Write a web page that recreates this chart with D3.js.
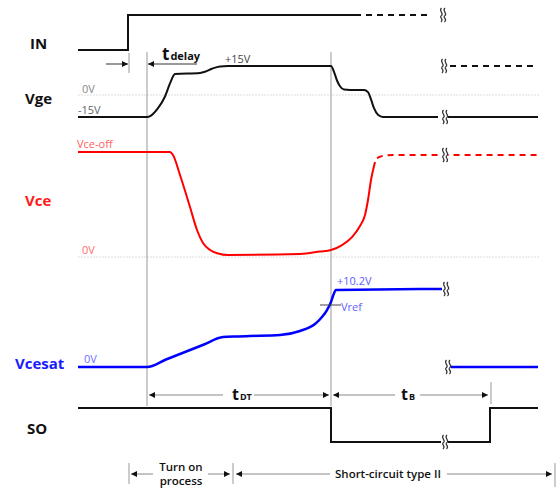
<!DOCTYPE html>
<html><head><meta charset="utf-8">
<script src="https://cdn.jsdelivr.net/npm/d3@7"></script>
<style>body{margin:0;background:#fff}svg{display:block;font-family:"Open Sans","Noto Sans",sans-serif}</style>
</head><body>
<script>
// time axis in arbitrary units
const signalNames = ["IN","Vge","Vce","Vcesat","SO"];
const signalColors = ["#111","#111","#ff0000","#0000ff","#111"];

const inT = [0,50,277];            const inV = [0,1,1];
const inDashT = [277,354];         const inDashV = [1,1];

const vgeT = [0,69,73,80,87,92,97,122,127,134,142,150,253,256,259,262,266,272,286,290,293,296,300,305,360];
const vgeV = [-15,-15,-14,-9,-1,6,10.9,11.4,12,13.6,14.8,15,15,12,7.5,4.5,2.8,2.6,2.6,1.5,-3,-9,-13.5,-15,-15];
const vgeT2 = [368,460];           const vgeV2 = [-15,-15];
const vgeDashT = [372,455];        const vgeDashV = [15,15];

const vceT = [0,92,95,102,112,119,125,132,140,150,222,242,253,264,274,282,287,290,293,297];
const vceV = [1,1,0.971,0.781,0.476,0.257,0.133,0.067,0.033,0.019,0.029,0.052,0.067,0.114,0.19,0.295,0.4,0.543,0.733,0.905];
const vceDashT = [299,307,317,460]; const vceDashV = [0.943,0.967,0.971,0.971];

const satT = [0,69,88,107,126,145,160,172,202,222,237,244,249,253,255,258,365];
const satV = [0,0,0.98,1.96,2.94,3.92,4.0,4.05,4.18,4.71,5.62,6.54,7.45,8.5,9.28,10.07,10.2];
const satT2 = [369,460];           const satV2 = [0,0];

const soT = [0,253,412,460];       const soV = [1,0,1,1];

const breakT = 362;
const markers = {tIn:50, tOn:69, tOff:253, tEnd:412, tProc:154};

const W=558,H=489;
const svg=d3.select("body").append("svg").attr("width",W).attr("height",H);
const x=d3.scaleLinear().domain([0,460]).range([78,538]);
const yIn=d3.scaleLinear().domain([0,1]).range([50,15]);
const yVge=d3.scaleLinear().domain([-15,0,15]).range([117,95,66]);
const yVce=d3.scaleLinear().domain([0,1]).range([257,152]);
const ySat=d3.scaleLinear().domain([0,10.2]).range([367,289]);
const ySo=d3.scaleLinear().domain([0,1]).range([442,408]);

const defs=svg.append("defs");
["s","e"].forEach(k=>{
  defs.append("marker").attr("id","ar"+k).attr("viewBox","0 0 10 10").attr("refX",k==="e"?10:0).attr("refY",5)
   .attr("markerWidth",9).attr("markerHeight",6).attr("markerUnits","userSpaceOnUse").attr("orient","auto")
   .append("path").attr("d",k==="e"?"M0,0L10,5L0,10z":"M10,0L0,5L10,10z").attr("fill","#111");
});

// gridlines (0V dotted)
svg.append("line").attr("x1",x(0)).attr("x2",x(462)).attr("y1",yVge(0)).attr("y2",yVge(0)).attr("stroke","#ddd").attr("stroke-dasharray","2,1");
svg.append("line").attr("x1",x(0)).attr("x2",x(462)).attr("y1",yVce(0)).attr("y2",yVce(0)).attr("stroke","#ddd").attr("stroke-dasharray","2,1");

// vertical gray lines
[markers.tOn,markers.tOff].forEach(t=>svg.append("line").attr("x1",x(t)).attr("x2",x(t)).attr("y1",52).attr("y2",406).attr("stroke","#999").attr("stroke-width",1));

function draw(T,V,y,color,w,curve,dash){
  const line=d3.line().x((d,i)=>x(T[i])).y((d,i)=>y(V[i])).curve(curve||d3.curveMonotoneX);
  const p=svg.append("path").attr("d",line(T)).attr("fill","none").attr("stroke",color).attr("stroke-width",w);
  if(dash)p.attr("stroke-dasharray",dash);
  return p;
}
draw(inT,inV,yIn,"#111",2,d3.curveStepAfter);
draw(inDashT,inDashV,yIn,"#111",2,d3.curveLinear,"6,5");
draw(vgeT,vgeV,yVge,"#111",2);
draw(vgeT2,vgeV2,yVge,"#111",2,d3.curveLinear);
draw(vgeDashT,vgeDashV,yVge,"#111",2,d3.curveLinear,"6,5");
draw(vceT,vceV,yVce,"#ff0000",2);
draw(vceDashT,vceDashV,yVce,"#ff0000",2,d3.curveMonotoneX,"6,5");
draw(satT,satV,ySat,"#0000ff",2.5);
draw(satT2,satV2,ySat,"#0000ff",2.5,d3.curveLinear);
draw(soT,soV,ySo,"#111",2,d3.curveStepAfter);

// break marks
function brk(t,yy){
  const g=svg.append("g").attr("transform",`translate(${x(t)},${yy})`);
  g.append("rect").attr("x",-1).attr("y",-3).attr("width",7).attr("height",6).attr("fill","#fff");
  [0,3.5].forEach(dx=>g.append("path").attr("d",`M${dx+1.5},-7 C${dx-2},-4 ${dx+4.5},-1.5 ${dx+1.5},0.5 C${dx-1.5},2.5 ${dx+4.5},4 ${dx+1},7`)
    .attr("fill","none").attr("stroke","#333").attr("stroke-width",1.2));
}
brk(breakT,yIn(1));
brk(breakT+1,yVge(15));
brk(breakT+2,yVge(-15));
brk(breakT+2,yVce(0.971));
brk(breakT+3,ySat(10.2));
brk(breakT+5,ySat(0));
brk(breakT+2,ySo(0));

// signal labels
const labY=[44,99,201,364,429], labX=[30,25,25,15,27];
signalNames.forEach((n,i)=>svg.append("text").attr("x",labX[i]).attr("y",labY[i]+5).text(n)
  .attr("font-size",15).attr("font-weight",700).attr("fill",i===2?"#ff1a1a":i===3?"#1a1aff":"#111"));

// small value labels
function small(t,xx,yy,c,fs){svg.append("text").attr("x",xx).attr("y",yy).text(t).attr("font-size",fs||11).attr("fill",c);}
small("0V",82,93,"#888");
small("-15V",78,114,"#666");
small("+15V",225,63,"#444");
small("Vce-off",77,148,"#ff6060");
small("0V",82,254,"#ff7070");
small("0V",84,363,"#7070ff");
small("+10.2V",337,285,"#6060ff");
small("Vref",341,311,"#6060ff");
svg.append("line").attr("x1",320).attr("x2",341).attr("y1",305).attr("y2",305).attr("stroke","#444").attr("stroke-width",1);

// tdelay
svg.append("line").attr("x1",x(markers.tIn)+1).attr("x2",x(markers.tIn)+1).attr("y1",53).attr("y2",73).attr("stroke","#999");
svg.append("line").attr("x1",106).attr("x2",x(markers.tIn)).attr("y1",64).attr("y2",64).attr("stroke","#333").attr("marker-end","url(#are)");
svg.append("line").attr("x1",x(markers.tOn)+1).attr("x2",197).attr("y1",64).attr("y2",64).attr("stroke","#333").attr("marker-start","url(#ars)");
const td=svg.append("text").attr("x",162).attr("y",60).attr("font-weight",700).attr("fill","#111");
td.append("tspan").text("t").attr("font-size",17);
td.append("tspan").text("delay").attr("font-size",11).attr("dx",1);

// dimension arrows
function dim(x1,x2,y,gapL,gapR){
  svg.append("line").attr("x1",x1).attr("x2",gapL).attr("y1",y).attr("y2",y).attr("stroke","#888").attr("marker-start","url(#ars)");
  svg.append("line").attr("x1",gapR).attr("x2",x2).attr("y1",y).attr("y2",y).attr("stroke","#888").attr("marker-end","url(#are)");
}
dim(x(markers.tOn)+2,x(markers.tOff)-2,395,223,254);
const tdt=svg.append("text").attr("x",232).attr("y",400).attr("font-weight",700).attr("fill","#111");
tdt.append("tspan").text("t").attr("font-size",16);
tdt.append("tspan").text("DT").attr("font-size",9).attr("dx",1);
dim(x(markers.tOff)+2,x(markers.tEnd)-2,395,395,420);
const tb=svg.append("text").attr("x",401).attr("y",400).attr("font-weight",700).attr("fill","#111");
tb.append("tspan").text("t").attr("font-size",16);
tb.append("tspan").text("B").attr("font-size",9).attr("dx",1);
svg.append("line").attr("x1",x(markers.tEnd)+1).attr("x2",x(markers.tEnd)+1).attr("y1",382).attr("y2",404).attr("stroke","#999");

// bottom process arrows
[markers.tIn, markers.tProc].forEach(t=>svg.append("line").attr("x1",x(t)+1).attr("x2",x(t)+1).attr("y1",463).attr("y2",484).attr("stroke","#999"));
svg.append("line").attr("x1",555).attr("x2",555).attr("y1",463).attr("y2",487).attr("stroke","#999");
dim(x(markers.tIn)+3,x(markers.tProc)-2,474,153,208);
dim(x(markers.tProc)+4,552,474,330,447);
svg.append("text").attr("x",181).attr("y",471).attr("text-anchor","middle").attr("font-size",11.5).attr("font-weight",600).attr("fill","#111").text("Turn on");
svg.append("text").attr("x",181).attr("y",485).attr("text-anchor","middle").attr("font-size",11.5).attr("font-weight",600).attr("fill","#111").text("process");
svg.append("text").attr("x",388).attr("y",478).attr("text-anchor","middle").attr("font-size",11.5).attr("font-weight",600).attr("fill","#111").text("Short-circuit type II");
</script>
</body></html>
